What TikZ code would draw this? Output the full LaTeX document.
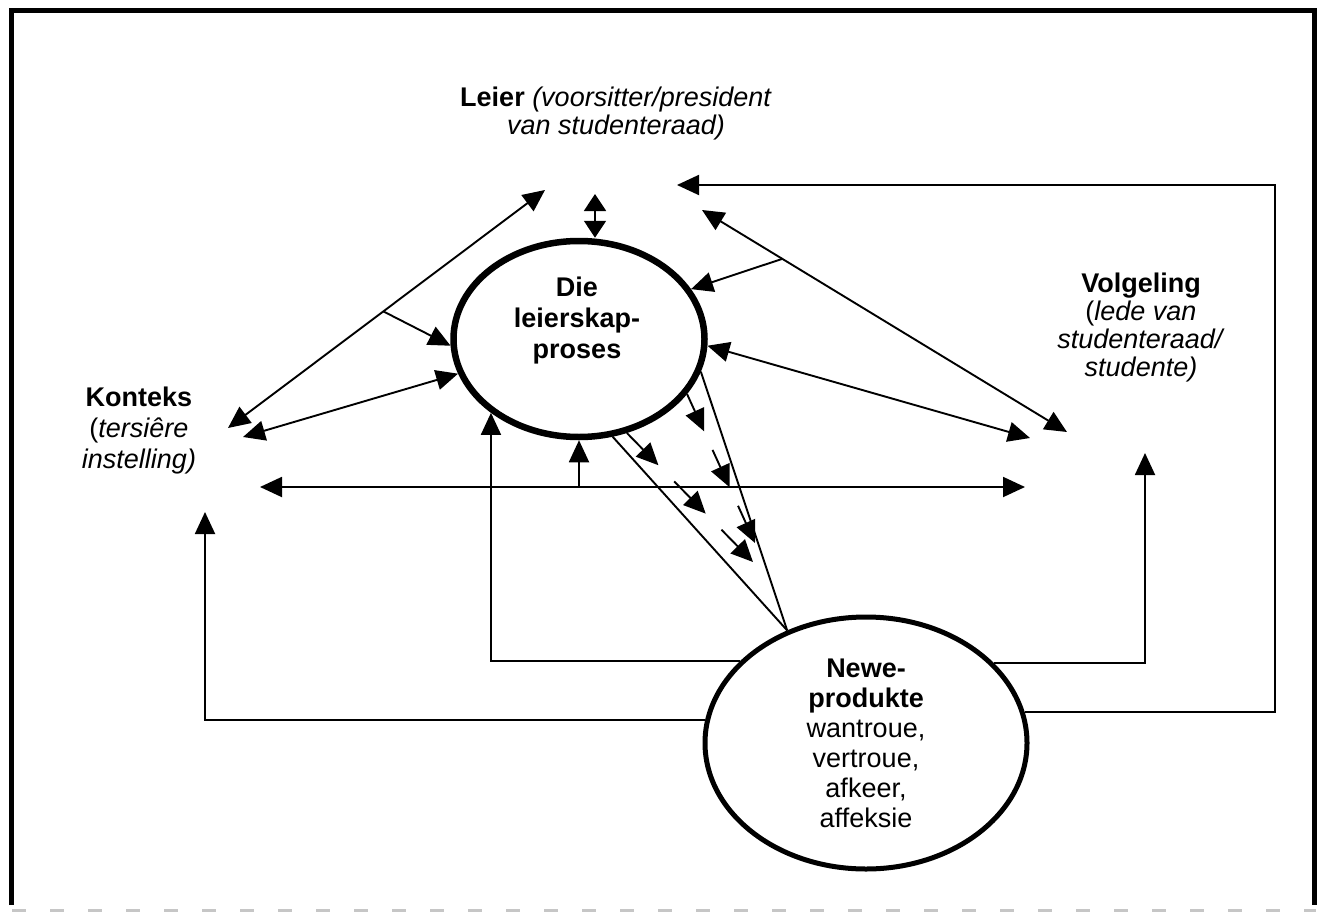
\documentclass[tikz,border=0pt]{standalone}
\usepackage{fontspec}
\setmainfont{Liberation Sans}
\usetikzlibrary{arrows.meta,shapes.geometric,calc}

\begin{document}
\begin{tikzpicture}[x=1pt,y=-1pt,
  txt/.style={align=center,inner sep=0pt,font=\fontsize{27}{#1}\selectfont},
  txt/.default=29,
  link/.style={line width=1.9pt,-{Triangle[length=22pt,width=20pt]}},
  dlink/.style={line width=1.9pt,{Triangle[length=22pt,width=20pt]}-{Triangle[length=22pt,width=20pt]}},
  shortdlink/.style={line width=1.9pt,{Triangle[length=17pt,width=22pt]}-{Triangle[length=17pt,width=22pt]}},
  thinline/.style={line width=1.9pt},
  bubble/.style={ellipse,draw,inner sep=0pt}
]
\useasboundingbox (0,0) rectangle (1324,912);

% page frame
\draw[line width=5pt] (11,905) -- (11,11) -- (1314,11) -- (1314,905);
\draw[gray!45,line width=3pt,dash pattern=on 14pt off 24pt] (12,910) -- (1316,910);

% the two ellipses
\node[bubble,line width=6.5pt,minimum width=251pt,minimum height=196pt] (proc) at (579,339) {};
\node[txt=31] (proctext) at (577,321) {\textbf{Die}\\\textbf{leierskap-}\\\textbf{proses}};
\node[bubble,line width=5pt,minimum width=322pt,minimum height=252pt,txt=30] (newe) at (866,743)
  {\textbf{Newe-}\\\textbf{produkte}\\wantroue,\\vertroue,\\afkeer,\\affeksie};

% the three actors
\node[txt=28] (leier) at (616,114) {\textbf{Leier} \textit{(voorsitter/president}\\\textit{van studenteraad)}};
\node[txt=31] (konteks) at (139,431) {\textbf{Konteks}\\(\textit{tersiêre}\\\textit{instelling)}};
\node[txt=28] (volg) at (1141,328) {\textbf{Volgeling}\\(\textit{lede van}\\\textit{studenteraad/}\\\textit{studente)}};

% free arrow ends next to the actors
\coordinate (ka) at (228,428);
\coordinate (kb) at (243,437);
\coordinate (ktip) at (205,512);
\coordinate (la) at (545,190);
\coordinate (lc) at (595,194);
\coordinate (ld) at (702,210);
\coordinate (ltip) at (677,185);
\coordinate (rcorner) at (1275,185);
\coordinate (va) at (1067,432);
\coordinate (vb) at (1030,438);
\coordinate (vtip) at (1145,453);
\coordinate (hl) at (260,487);
\coordinate (hr) at (1025,487);
\coordinate (c1end) at (753,562);
\coordinate (c2end) at (755,543);

% Konteks -- Leier, with a branch into the process
\draw[dlink] (ka) -- (la);
\draw[link] ($(ka)!0.49!(la)$) -- (proc.183);
% Konteks -- process
\draw[dlink] (kb) -- (proc.196);
% Leier -- process
\draw[shortdlink] (lc) -- (lc |- proc.north);
% Leier -- Volgeling, with a branch into the process
\draw[dlink] (ld) -- (va);
\draw[link] ($(ld)!0.22!(va)$) -- (proc.24);
% process -- Volgeling
\draw[dlink] (proc.-3) -- (vb);
% Konteks -- Volgeling, with a branch into the process
\draw[dlink] (hl) -- (hr);
\draw[link] (proc.south |- hl) -- (proc.south);

% process feeding the by-products
\draw[thinline] (proc.-71) -- (newe.125);
\draw[thinline] (proc.-15) -- (newe.125);
\foreach \a/\b in {0/0.25, 0.375/0.625, 0.75/1} {
  \draw[link] ($(proc.-63)!\a!(c1end)$) -- ($(proc.-63)!\b!(c1end)$);
  \draw[link] ($(proc.-27)!\a!(c2end)$) -- ($(proc.-27)!\b!(c2end)$);
}

% feedback from the by-products
\draw[link] (newe.147) -| (proc.220);
\draw[link] (newe.172) -| (ktip);
\draw[link] (newe.32) -| (vtip);
\draw[link] (newe.11) -| (rcorner) -- (ltip);
\end{tikzpicture}
\end{document}
